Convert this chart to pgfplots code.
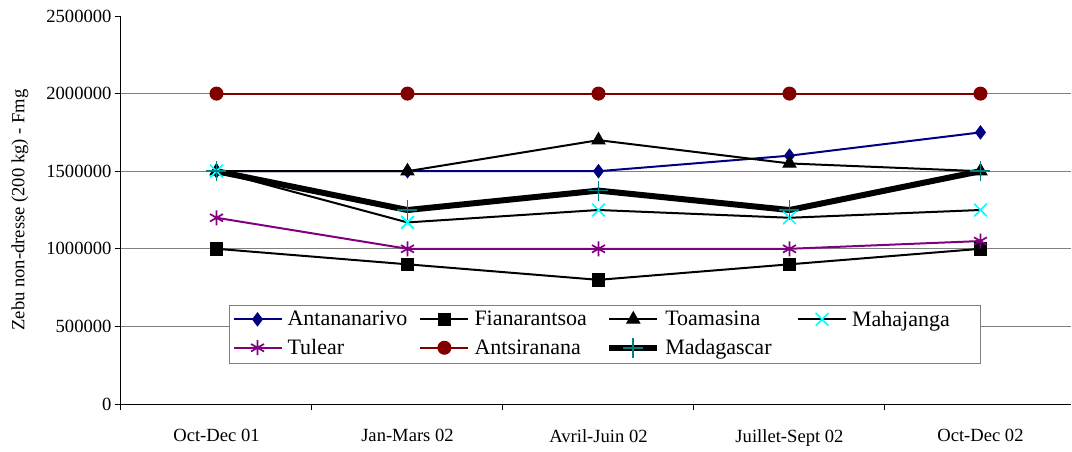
\documentclass[border=0pt]{standalone}
\usepackage{fontspec}
\setmainfont{Liberation Serif}
\usepackage{pgfplots}
\pgfplotsset{compat=1.18}
\definecolor{cNavy}{RGB}{0,0,128}
\definecolor{cPurple}{RGB}{128,0,128}
\definecolor{cDarkRed}{RGB}{128,0,0}
\definecolor{cCyan}{RGB}{0,255,255}
\definecolor{cTeal}{RGB}{0,128,128}
\definecolor{cGrid}{RGB}{128,128,128}
\newcommand{\LegE}[1]{\makebox[125.5pt][l]{#1}}
\begin{document}
\begin{tikzpicture}
\path[use as bounding box] (0pt,0pt) rectangle (1072pt,451pt);
\begin{axis}[
  at={(121pt,47pt)}, anchor=south west,
  scale only axis, width=950pt, height=388pt,
  xmin=-0.5, xmax=4.474, ymin=0, ymax=2500000,
  axis x line=bottom, axis y line=left,
  axis line style={-, black, line width=1pt},
  tick align=outside,
  xtick={0,1,2,3,4},
  xticklabels={Oct-Dec 01, Jan-Mars 02, Avril-Juin 02, Juillet-Sept 02, Oct-Dec 02},
  major x tick style={draw=none},
  minor xtick={-0.5,0.5,1.5,2.5,3.5},
  minor tick length=6pt, major tick length=6pt,
  every tick/.style={black, line width=1pt},
  ytick={500000,1000000,1500000,2000000},
  ymajorgrids=true,
  grid style={cGrid, line width=1pt},
  extra y ticks={0,2500000},
  extra y tick style={grid=none},
  scaled y ticks=false,
  yticklabel style={/pgf/number format/fixed, /pgf/number format/1000 sep={}},
  /pgf/number format/assume math mode=true,
  tick label style={font=\fontsize{18.6}{22}\selectfont},
  xticklabel style={yshift=-16pt},
  ylabel={Zebu non-dresse (200 kg) - Fmg},
  every axis y label/.style={at={(axis description cs:-0.1063,0.5)}, rotate=90, anchor=center, font=\fontsize{18.6}{22}\selectfont},
  legend columns=4,
  legend cell align=left,
  legend style={at={(0.1137,0.2552)}, anchor=north west, draw=cGrid, line width=1pt,
    inner xsep=3pt, inner ysep=5.5pt, font=\fontsize{22}{25}\selectfont,
    nodes={inner sep=0pt}, row sep=10pt,
    /tikz/every odd column/.append style={column sep=5pt},
    /tikz/every even column/.append style={column sep=6.3pt}},
  legend image code/.code={\draw[mark repeat=2,mark phase=2] plot coordinates {(0pt,0pt) (24pt,0pt) (48pt,0pt)};},
]
\addplot[cNavy, line width=2pt, mark=diamond*, mark size=6.5pt, mark options={fill=cNavy, line width=1pt}]
  coordinates {(0,1500000) (1,1500000) (2,1500000) (3,1600000) (4,1750000)};
\addlegendentry{\LegE{Antananarivo}}
\addplot[black, line width=2pt, mark=square*, mark size=6.3pt, mark options={fill=black, line width=1pt}]
  coordinates {(0,1000000) (1,900000) (2,800000) (3,900000) (4,1000000)};
\addlegendentry{\LegE{Fianarantsoa}}
\addplot[black, line width=2pt, mark=triangle*, mark size=7.5pt, mark options={fill=black, line width=1pt}]
  coordinates {(0,1500000) (1,1500000) (2,1700000) (3,1550000) (4,1500000)};
\addlegendentry{\LegE{Toamasina}}
\addplot[black, line width=2pt, mark=x, mark size=9pt, mark options={draw=cCyan, line width=1.7pt}]
  coordinates {(0,1500000) (1,1170000) (2,1250000) (3,1200000) (4,1250000)};
\addlegendentry{\LegE{Mahajanga}}
\addplot[cPurple, line width=2pt, mark=asterisk, mark size=7.5pt, mark options={line width=1.7pt}]
  coordinates {(0,1200000) (1,1000000) (2,1000000) (3,1000000) (4,1050000)};
\addlegendentry{\LegE{Tulear}}
\addplot[draw=cDarkRed, line width=2.2pt, mark=*, mark size=6.5pt, mark options={draw=cDarkRed, fill=cDarkRed, line width=1pt}]
  coordinates {(0,2000000) (1,2000000) (2,2000000) (3,2000000) (4,2000000)};
\addlegendentry{\LegE{Antsiranana}}
\addplot[black, line width=6pt, mark=+, mark size=10pt, mark options={draw=cTeal, line width=1.7pt}]
  coordinates {(0,1500000) (1,1250000) (2,1375000) (3,1250000) (4,1500000)};
\addlegendentry{\LegE{Madagascar}}
\end{axis}
\end{tikzpicture}
\end{document}
